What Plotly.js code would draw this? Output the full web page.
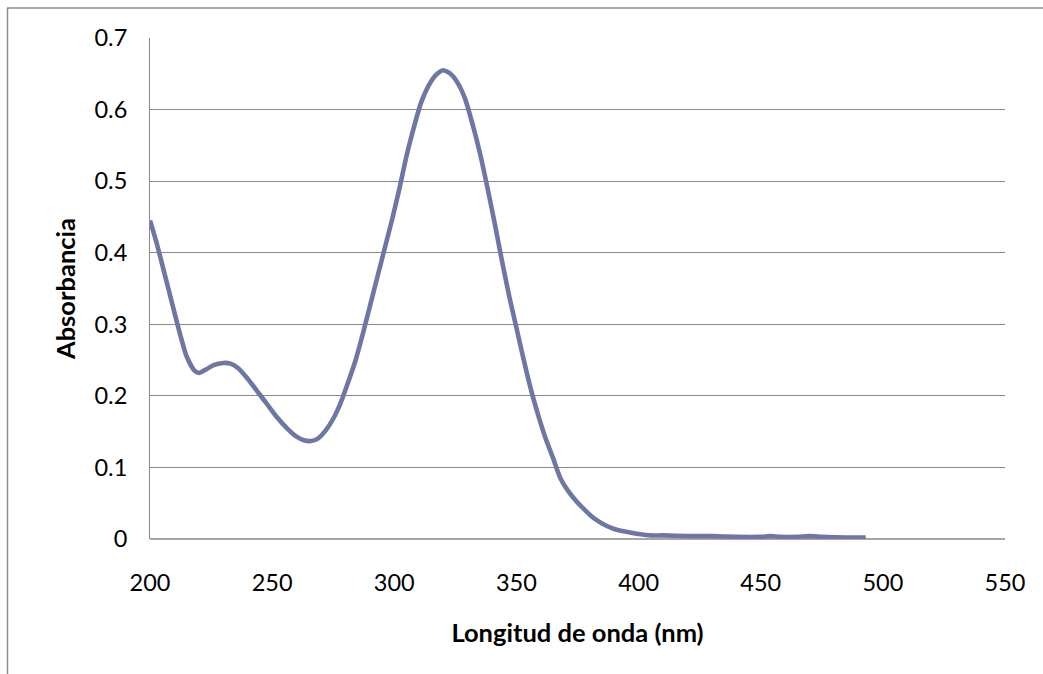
<!DOCTYPE html>
<html>
<head>
<meta charset="utf-8">
<script src="https://cdn.plot.ly/plotly-3.0.1.min.js"></script>
<style>html,body{margin:0;padding:0;background:#fff;}#chart{width:1043px;height:674px;}</style>
</head>
<body>
<div id="chart"></div>
<script>
const wavelength = [200,203,206,209,212,215,218,220,223,226,230,233,236,240,244,248,252,256,260,263,266,269,272,275,278,281,284,287,290,293,296,299,302,305,308,311,314,317,320,323,326,329,332,335,338,341,344,347,350,353,356,359,362,365,368,371,374,377,380,383,386,390,395,400,405,410,420,430,440,450,454,458,465,470,475,485,493];
const absorbance = [0.445,0.41,0.37,0.33,0.29,0.255,0.236,0.232,0.237,0.243,0.246,0.245,0.239,0.224,0.206,0.188,0.170,0.155,0.143,0.138,0.137,0.141,0.152,0.168,0.190,0.218,0.248,0.285,0.325,0.365,0.405,0.445,0.488,0.535,0.575,0.610,0.633,0.648,0.655,0.650,0.637,0.615,0.580,0.540,0.493,0.443,0.390,0.340,0.295,0.250,0.208,0.172,0.140,0.113,0.085,0.068,0.055,0.044,0.034,0.026,0.020,0.014,0.010,0.007,0.005,0.005,0.004,0.004,0.003,0.003,0.004,0.003,0.003,0.004,0.003,0.002,0.002];
const xTitle = "Longitud de onda (nm)";
const yTitle = "Absorbancia";

const L = 150, R = 1005, T = 38, B = 539;
const px = v => (v - L) / (R - L);
const py = v => (B - v) / (B - T);

const trace = {
  x: wavelength, y: absorbance, type: 'scatter', mode: 'lines',
  line: {color: '#6C78A3', width: 4.6, shape: 'spline', smoothing: 0.6},
  hoverinfo: 'skip'
};

const font = {family: 'Lato, "Open Sans", sans-serif', color: '#000'};

const layout = {
  width: 1043, height: 674,
  margin: {l: L, r: 1043 - R, t: T, b: 674 - B, pad: 0},
  paper_bgcolor: '#fff', plot_bgcolor: '#fff',
  showlegend: false,
  font: Object.assign({size: 24}, font),
  xaxis: {
    range: [200, 550], dtick: 50, tick0: 200,
    showgrid: false, zeroline: false,
    showline: false,
    ticks: '', ticklabelstandoff: 27,
    tickfont: Object.assign({size: 23.5}, font),
    title: {text: xTitle, font: Object.assign({size: 25.5, weight: 'bold'}, font), standoff: 29},
    automargin: false, fixedrange: true
  },
  yaxis: {
    range: [0, 0.7], dtick: 0.1, tick0: 0,
    showgrid: true, gridcolor: '#8A8A8A', gridwidth: 1,
    zeroline: false,
    showline: true, linecolor: '#8A8A8A', linewidth: 1,
    ticks: '', ticklabelstandoff: 17,
    tickfont: Object.assign({size: 23.5}, font),
    title: {text: yTitle, font: Object.assign({size: 25.5, weight: 'bold'}, font), standoff: 11},
    automargin: false, fixedrange: true
  },
  shapes: [
    {type: 'line', xref: 'paper', yref: 'paper', x0: 0, x1: 1, y0: 0, y1: 0, line: {color: '#8A8A8A', width: 1.5}, layer: 'below'},
    {type: 'line', xref: 'paper', yref: 'paper', x0: px(7), x1: px(1043), y0: py(8), y1: py(8), line: {color: '#8C8C8C', width: 1.5}},
    {type: 'line', xref: 'paper', yref: 'paper', x0: px(7.5), x1: px(7.5), y0: py(8), y1: py(674), line: {color: '#8C8C8C', width: 1.5}}
  ]
};

Plotly.newPlot('chart', [trace], layout, {staticPlot: true, displayModeBar: false});
</script>
</body>
</html>
